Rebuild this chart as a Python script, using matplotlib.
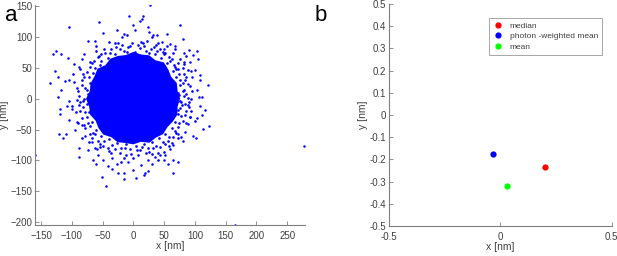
"""Localization scatter (a) and centre estimates (b)."""

import matplotlib.pyplot as plt

plt.rcParams["font.family"] = ["Liberation Sans", "DejaVu Sans"]

BLUE = "#0000ff"
AX_GRAY = "#7f7f7f"
TXT_GRAY = "#404040"

# panel a: dense core outline of the localization cloud [nm]
core_x = [76, 71.9, 70.5, 61.5, 56.7, 49.5, 36, 25.7, 12.7, 0, -12.5, -25.3,
          -37.5, -45.6, -58.2, -63.2, -69.5, -70.9, -77, -71.9, -70.5, -61.5,
          -56.7, -48.9, -36, -25.7, -12.7, 0, 12.3, 26, 36.5, 48.2, 55.2, 64.1,
          71.4, 71.9]
core_y = [0, 12.7, 25.7, 35.5, 47.6, 59, 62.4, 70.5, 71.9, 76, 70.9, 69.5,
          65, 54.4, 48.9, 36.5, 25.3, 12.5, 0, -12.7, -25.7, -35.5,
          -47.6, -58.2, -62.4, -70.5, -71.9, -74, -69.9, -71.4, -63.2, -57.5,
          -46.3, -37, -26, -12.7]

# panel a: speckled fringe around the core [nm]
edge_x = [72, 78, 75, 82, 70, 76, 64, 70, 55, 60, 45, 50, 35, 28, 38, 20, 10, 2,
          -8, -15, -22, -30, -38, -42, -52, -55, -62, -66, -72, -70, -78, -74,
          -80, -75, -82, -72, -76, -68, -70, -60, -62, -52, -48, -40, -35, -26,
          -20, -12, -5, 4, 10, 18, 24, 30, 36, 42, 48, 52, 58, 62, 68, 68, 74,
          72, 78, 76, 84, 66, -58, -84, -86, -55, 20, 62, 85, 15, -25, -68, 80,
          -88, 88, 40, -40,
          74, 80, 88, 79, 86, 73, 81, 74, 83, 68, 73, 58, 52, 44, 34, 26, 18, 8,
          -2, -10, -18, -28, -36, -46, -48, -56, -64, -70, -76, -80, -84, -76,
          -90, -82, -88, -78, -84, -74, -78, -66, -68, -58, -50, -42, -30, -22,
          -14, -4, 6, 14, 26, 32, 44, 52, 56, 64, 70, 72, 80, 84, 90, 76, 86,
          92, 88, 76, 64, -60, -86, -92, -90, -62, 0, 50, 78, 92, 40, -40, -15,
          22, 94, -96, -72, 68,
          82, 90, 84, 72, 62, 48, 36, 12, -6, -30, -52, -70, -82, -92, -86, -94,
          -80, -70, -54, -36, -12, 8, 30, 58, 72, 86, 94, 96, 82, 54, -60, -98,
          -100, -84, -20, 40, 100, 86, -10, 30]
edge_y = [10, -5, 22, 15, 35, 30, 45, 48, 58, 62, 66, 72, 72, 80, 78, 78, 82, 76,
          84, 78, 80, 72, 75, 66, 62, 55, 50, 42, 35, 25, 18, 8,
          0, -8, -14, -22, -30, -38, -45, -50, -58, -60, -68, -66, -75, -72,
          -80, -74, -82, -76, -84, -74, -80, -70, -76, -64, -70, -58, -62, -48,
          -52, -38, -40, -25, -28, -15, -8, 55, 68, 30, -20, -78, -88, -72, 35,
          90, 90, 58, 50, 5, -10, -88, -85,
          6, 12, 2, -10, -20, -18, 26, 40, 40, 52, 58, 68, 75, 80, 84, 74, 86, 88,
          90, 76, 88, 84, 80, 74, 80, 70, 62, 52, 44, 36, 22, 14,
          12, -4, -10, -22, -32, -40, -48, -56, -64, -68, -76, -80, -82, -88,
          -80, -90, -84, -78, -86, -80, -78, -74, -68, -62, -56, -46, -36, -26,
          -14, -4, 8, 20, 46, 64, 74, 78, 48, -2, -40, -80, -96, -86, -62, -30,
          90, 92, -96, 94, 0, 28, -70, 80,
          4, -6, 30, 48, 64, 76, 88, 92, 86, 90, 72, 60, 40, 18, -6, -22,
          -42, -58, -74, -88, -92, -92, -90, -76, -64, -40, -20, 12, 56, 86, 86, 40,
          -12, -64, -102, -100, -36, 70, 104, 100]

# panel a: sparse outliers [nm]
out_x = [-6.5, -104, -56, -131, -126, -118, -106, -74, -62, -49, -127, -135,
         -123, -117, -112, -105.5, -97, -84, -81, -89, -122, -27, -15, -18,
         27, 16, 13.6, 11, 76, 0, 24, 26, 3, 54, 32, 39, 81, 68, 90, 103, 83,
         97, 92, 105.5, 82, 94, 100, 109, 108, 122, 95, 103, 107, 89, 60, 49, 46,
         -160, -119, -120, -121, -114, -109, -89, -88, -65, -61, -57, -51, -45,
         -41.5, -34, -25, -16, -14.6, -34, -27, -49, -95, -84, -92, -105, -108,
         -100, -104, 0, -8, -78, -67.5, -59, -73,
         123, 97, 101, 116, 108, 111, 103, 89, 84, 73, 81, 65, 60, 73, 64, 65,
         51, 49, 43, 35, 24, 23, 19, 17, 4, 12, 30, 57, 92, 111, 113,
         278, 165]
out_y = [135, 116, 125, 72, 77, 73, 66.5, 93, 94, 106, 45, 26,
         35, 15, 29, 30, 57, 65, 73, 51, 3, 111, 105.5, 100,
         152, 135, 130, 126, 119, 119, 116, 108, 111, 105.5, 103, 104, 97, 85,
         79.5, 78, 74, 71, 59, 64, 59, 45, 47, 38, 30, 21.6, 35, 13.5, 2.6, 24,
         89, 81, 92,
         -91, -16, -24, -58, -64, -58, -80, -95, -100, -106, -92, -127, -141,
         -109, -114, -120, -120, -130, -97, -105.5, -100, -51, -43, -38, -35,
         -11, -16, -4, -115, -103, -60, -70, -81, -84,
         -44.5, -60, -64, -19, -11, 2.6, -32, -41, -54, -57, -68, -75, -81, -102,
         -120, -100, -92, -100, -92, -95, -100, -118, -120, -124.5, -129, -108,
         -105.5, -105.5, -30, -27, -49,
         -77, -205]

# panel b: centre estimates [nm]
est_labels = ["median", "photon -weighted mean", "mean"]
est_x = [0.202, -0.035, 0.028]
est_y = [-0.234, -0.177, -0.321]
est_colors = ["#ff0000", "#0000ff", "#00ff00"]


def style_axes(ax):
    for side in ["top", "right"]:
        ax.spines[side].set_visible(False)
    for side in ["left", "bottom"]:
        ax.spines[side].set_color(AX_GRAY)
        ax.spines[side].set_linewidth(0.8)
    ax.tick_params(direction="in", length=3, width=0.6, color=AX_GRAY,
                   labelsize=7, labelcolor=TXT_GRAY, pad=2)
    ax.tick_params(axis="x", pad=4)


fig = plt.figure(figsize=(6.17, 2.56), dpi=100)

# panel a
ax1 = fig.add_axes([0.0567, 0.121, 0.4376, 0.859])
ax1.fill(core_x, core_y, color=BLUE, lw=0)
ax1.plot(edge_x, edge_y, "o", ms=1.9, color=BLUE, mec="none")
ax1.plot(out_x, out_y, "o", ms=1.8, color=BLUE, mec="none")
ax1.set_xlim(-160, 279)
ax1.set_ylim(-205, 152)
ax1.set_xticks(range(-150, 251, 50))
ax1.set_yticks(range(-200, 151, 50))
ax1.set_xlabel("x [nm]", fontsize=7.5, color=TXT_GRAY, labelpad=0)
ax1.set_ylabel("y [nm]", fontsize=7.5, color=TXT_GRAY, labelpad=1)
style_axes(ax1)

# panel b
ax2 = fig.add_axes([0.6305, 0.117, 0.361, 0.867])
for lab, x, y, c in zip(est_labels, est_x, est_y, est_colors):
    ax2.plot(x, y, "o", ms=4.5, color=c, mec="none", label=lab)
ax2.set_xlim(-0.5, 0.5)
ax2.set_ylim(-0.5, 0.5)
ax2.set_xticks([-0.5, 0, 0.5])
ax2.set_xticklabels(["-0.5", "0", "0.5"])
ax2.set_yticks([i / 10 for i in range(-5, 6)])
ax2.set_yticklabels(["-0.5", "-0.4", "-0.3", "-0.2", "-0.1", "0",
                     "0.1", "0.2", "0.3", "0.4", "0.5"])
ax2.set_xlabel("x [nm]", fontsize=7.5, color=TXT_GRAY, labelpad=0)
ax2.set_ylabel("y [nm]", fontsize=7.5, color=TXT_GRAY, labelpad=1)
style_axes(ax2)
leg = ax2.legend(loc="upper right", bbox_to_anchor=(0.956, 0.937), fontsize=6,
                 frameon=True, fancybox=False, edgecolor=AX_GRAY,
                 handletextpad=0.8, borderpad=0.45, labelspacing=0.35,
                 handlelength=1.2, borderaxespad=0)
leg.get_frame().set_linewidth(0.6)
for t in leg.get_texts():
    t.set_color(TXT_GRAY)

fig.text(0.008, 0.94, "a", fontsize=16, ha="left", va="center")
fig.text(0.51, 0.94, "b", fontsize=16, ha="left", va="center")

fig.savefig("out.png", dpi=100)
